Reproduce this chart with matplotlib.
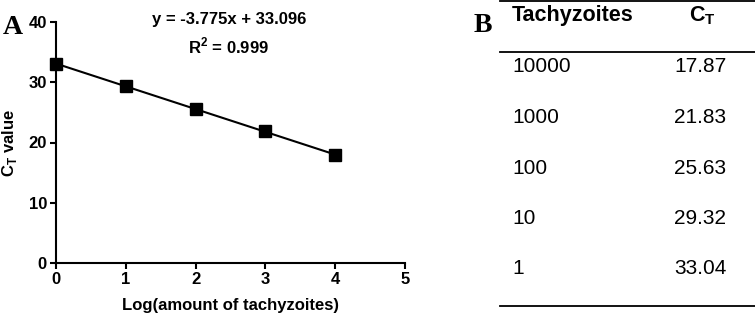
import numpy as np
import matplotlib
matplotlib.use("Agg")
import matplotlib.pyplot as plt
from matplotlib.lines import Line2D

# data
log_amount = [0, 1, 2, 3, 4]
ct_values = [33.04, 29.32, 25.63, 21.83, 17.87]
slope = -3.775
intercept = 33.096
r_squared = 0.999
tachyzoites = ["10000", "1000", "100", "10", "1"]
ct_table = ["17.87", "21.83", "25.63", "29.32", "33.04"]

plt.rcParams['font.family'] = ['Liberation Sans', 'DejaVu Sans']

W, H = 755, 322
fig = plt.figure(figsize=(W / 100, H / 100), dpi=100)

# panel A
ax = fig.add_axes([56 / W, 1 - 263 / H, (405 - 56) / W, (263 - 22) / H])
xfit = np.array([log_amount[0], log_amount[-1]])
ax.plot(xfit, slope * xfit + intercept, color='black', lw=1.5, clip_on=False)
ax.plot(log_amount, ct_values, 's', color='black', markersize=8.5, clip_on=False, zorder=5)
ax.set_xlim(0, 5)
ax.set_ylim(0, 40)
ax.set_xticks(range(0, 6))
ax.set_yticks(range(0, 41, 10))
for s in ['top', 'right']:
    ax.spines[s].set_visible(False)
for s in ['left', 'bottom']:
    ax.spines[s].set_linewidth(1.5)
ax.tick_params(width=1.5, length=4.5, labelsize=12, pad=2)
for lab in ax.get_xticklabels() + ax.get_yticklabels():
    lab.set_fontweight('bold')
ax.set_xlabel('Log(amount of tachyzoites)', fontsize=12, fontweight='bold', labelpad=8)
ax.set_ylabel(r'C$_\mathregular{T}$ value', fontsize=12, fontweight='bold', labelpad=7)
ax.text(0.495, 1.01, f'y = {slope}x + {intercept}', transform=ax.transAxes,
        ha='center', va='center', fontsize=12, fontweight='bold')
ax.text(0.495, 0.9, r'R$^\mathregular{2}$' + f' = {r_squared}', transform=ax.transAxes,
        ha='center', va='center', fontsize=12, fontweight='bold')

fig.text(12.5 / W, 1 - 28 / H, 'A', family='Liberation Serif', fontweight='bold',
         fontsize=20, ha='center', va='center')

# panel B (table)
fig.text(483 / W, 1 - 26 / H, 'B', family='Liberation Serif', fontweight='bold',
         fontsize=20, ha='center', va='center')
for yl in [1.2, 52, 306]:
    fig.add_artist(Line2D([500 / W, 1.0], [1 - yl / H, 1 - yl / H], color='black', lw=1.3))
fig.text(512 / W, 1 - 15 / H, 'Tachyzoites', fontsize=15.5, fontweight='bold', ha='left', va='center')
fig.text(702 / W, 1 - 16 / H, r'C$_\mathregular{T}$', fontsize=15.5, fontweight='bold', ha='center', va='center')
row_y = [67, 117.5, 168, 218.5, 269]
for ry, t, c in zip(row_y, tachyzoites, ct_table):
    fig.text(512 / W, 1 - ry / H, t, fontsize=15, ha='left', va='center')
    fig.text(700 / W, 1 - ry / H, c, fontsize=15, ha='center', va='center')

fig.savefig('out.png', dpi=100)
